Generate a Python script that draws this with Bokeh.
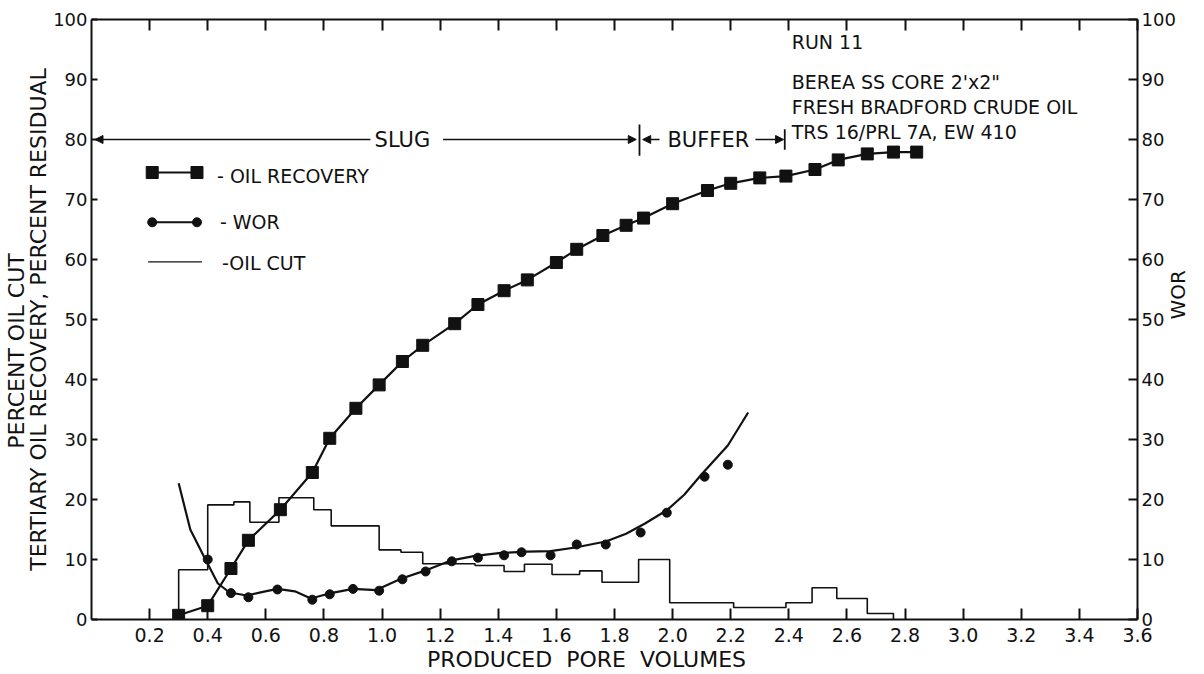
import math
from bokeh.plotting import figure
from bokeh.models import (LinearAxis, Range1d, FixedTicker, PrintfTickFormatter,
                          Label, Arrow, NormalHead)
from bokeh.embed import file_html
from bokeh.resources import INLINE

FONT = "DejaVu Sans"
INK = "#111111"
NBSP = "\u00a0"

# ---------------- data ----------------
# Tertiary oil recovery (% residual) -- squares
REC_X = [0.30, 0.40, 0.48, 0.54, 0.65, 0.76, 0.82, 0.91, 0.99, 1.07, 1.14, 1.25,
         1.33, 1.42, 1.50, 1.60, 1.67, 1.76, 1.84, 1.90, 2.00, 2.12, 2.20, 2.30,
         2.39, 2.49, 2.57, 2.67, 2.76, 2.84]
REC_Y = [0.7, 2.3, 8.5, 13.2, 18.3, 24.5, 30.2, 35.2, 39.1, 43.0, 45.7, 49.3,
         52.5, 54.8, 56.6, 59.5, 61.7, 64.0, 65.7, 66.9, 69.3, 71.5, 72.7, 73.6,
         73.9, 75.0, 76.6, 77.6, 77.9, 77.9]

# WOR -- circles
WOR_X = [0.40, 0.48, 0.54, 0.64, 0.76, 0.82, 0.90, 0.99, 1.07, 1.15, 1.24, 1.33,
         1.42, 1.48, 1.58, 1.67, 1.77, 1.89, 1.98, 2.11, 2.19]
WOR_Y = [10.0, 4.4, 3.7, 5.0, 3.3, 4.2, 5.1, 4.8, 6.7, 8.0, 9.7, 10.3,
         10.7, 11.2, 10.7, 12.5, 12.5, 14.5, 17.8, 23.8, 25.8]

# WOR smoothed curve as drawn on the chart
WOR_CURVE_X = [0.30, 0.34, 0.39, 0.435, 0.475, 0.535, 0.59, 0.64, 0.70, 0.755,
               0.815, 0.90, 0.98, 1.065, 1.145, 1.235, 1.32, 1.41, 1.50, 1.58,
               1.665, 1.77, 1.84, 1.905, 1.98, 2.04, 2.10, 2.19, 2.26]
WOR_CURVE_Y = [22.7, 15.0, 10.2, 6.0, 4.5, 4.0, 4.6, 5.1, 4.7, 3.5,
               4.3, 5.1, 4.9, 6.8, 8.1, 9.8, 10.6, 11.1, 11.3, 11.4,
               12.0, 13.0, 14.3, 16.0, 18.2, 20.8, 24.2, 29.0, 34.5]

# Oil cut (%) -- step histogram: bin edges and bin values
CUT_EDGES = [0.30, 0.40, 0.49, 0.545, 0.645, 0.765, 0.825, 0.99, 1.065, 1.14,
             1.32, 1.42, 1.49, 1.585, 1.68, 1.757, 1.883, 1.99, 2.21, 2.39,
             2.48, 2.565, 2.67, 2.76]
CUT_VALUES = [8.3, 19.1, 19.6, 16.2, 20.3, 18.3, 15.6, 11.6, 11.2, 9.3,
              9.0, 8.0, 9.2, 7.5, 8.1, 6.2, 10.0, 2.8, 2.0, 2.8,
              5.3, 3.5, 1.0]

X_TICKS = [0.2, 0.4, 0.6, 0.8, 1.0, 1.2, 1.4, 1.6, 1.8, 2.0, 2.2, 2.4, 2.6,
           2.8, 3.0, 3.2, 3.4, 3.6]
Y_TICKS = [0, 10, 20, 30, 40, 50, 60, 70, 80, 90, 100]

# ---------------- figure ----------------
p = figure(width=1204, height=674, x_range=Range1d(0, 3.6), y_range=Range1d(0, 100),
           output_backend="svg", toolbar_location=None,
           min_border_left=91, min_border_right=62, min_border_top=19,
           min_border_bottom=55)
p.grid.visible = False
p.outline_line_color = None
p.background_fill_color = "white"
p.border_fill_color = "white"


def style_axis(ax, tick_in, standoff, size="18px"):
    ax.axis_line_color = INK
    ax.axis_line_width = 2
    ax.major_tick_line_color = INK
    ax.major_tick_line_width = 2
    ax.major_tick_in = tick_in
    ax.major_tick_out = 0
    ax.minor_tick_line_color = None
    ax.major_label_standoff = standoff
    ax.major_label_text_font = FONT
    ax.major_label_text_color = INK
    ax.major_label_text_font_size = size
    ax.axis_label_text_font = FONT
    ax.axis_label_text_color = INK
    ax.axis_label_text_font_style = "normal"


def title_axis(text, size, standoff):
    ax = LinearAxis(ticker=FixedTicker(ticks=[]))
    style_axis(ax, 0, 0, "0px")
    ax.axis_line_color = None
    ax.axis_label = text
    ax.axis_label_text_font_size = size
    ax.axis_label_standoff = standoff
    return ax


xb = p.below[0]
xb.ticker = FixedTicker(ticks=X_TICKS)
xb.formatter = PrintfTickFormatter(format="%.1f")
style_axis(xb, 11, 8, "19px")
xb.axis_label = ("PRODUCED" + NBSP * 2 + "PORE" + NBSP * 2 + "VOLUMES") + NBSP * 8
xb.axis_label_text_font_size = "22px"
xb.axis_label_standoff = 2

yl = p.left[0]
yl.ticker = FixedTicker(ticks=Y_TICKS)
style_axis(yl, 6, 4)
yl.axis_label = "TERTIARY OIL RECOVERY, PERCENT RESIDUAL"
yl.axis_label_text_font_size = "22px"
yl.axis_label_standoff = -1

p.add_layout(title_axis("PERCENT OIL CUT" + NBSP * 9, "22px", -5), "left")

yr = LinearAxis(ticker=FixedTicker(ticks=Y_TICKS))
style_axis(yr, 9, 4)
p.add_layout(yr, "right")

wor_title = title_axis("WOR", "20px", -1)
wor_title.axis_label_orientation = math.pi / 2
p.add_layout(wor_title, "right")

xt = LinearAxis(ticker=FixedTicker(ticks=X_TICKS))
style_axis(xt, 11, 0, "0px")
xt.major_label_text_alpha = 0
p.add_layout(xt, "above")

# ---------------- data marks ----------------
step_x = [CUT_EDGES[0]] + CUT_EDGES
step_y = [0] + CUT_VALUES + [0]
p.step(step_x, step_y, mode="after", line_color=INK, line_width=1.6)

p.line(REC_X, REC_Y, line_color=INK, line_width=2.2)
p.scatter(REC_X, REC_Y, marker="square", size=12, fill_color=INK, line_color=INK)

p.line(WOR_CURVE_X, WOR_CURVE_Y, line_color=INK, line_width=2.2)
p.scatter(WOR_X, WOR_Y, marker="circle", size=9, fill_color=INK, line_color=INK)

# ---------------- legend (hand drawn like the original) ----------------
LEG_X0, LEG_X1 = 0.209, 0.363
p.line([LEG_X0, LEG_X1], [74.5, 74.5], line_color=INK, line_width=2)
p.scatter([LEG_X0, LEG_X1], [74.5, 74.5], marker="square", size=12, fill_color=INK, line_color=INK)
p.line([LEG_X0, LEG_X1], [66.2, 66.2], line_color=INK, line_width=2)
p.scatter([LEG_X0, LEG_X1], [66.2, 66.2], marker="circle", size=9, fill_color=INK, line_color=INK)
p.line([0.195, 0.38], [59.6, 59.6], line_color=INK, line_width=1.4)


def label(x, y, text, size="19px", align="left", angle=0.0):
    p.add_layout(Label(x=x, y=y, text=text, text_font=FONT, text_font_size=size,
                       text_color=INK, text_align=align, text_baseline="middle",
                       angle=angle))


label(0.432, 74.0, "- OIL RECOVERY")
label(0.442, 66.2, "- WOR")
label(0.449, 59.5, "-OIL CUT")

# ---------------- annotation block ----------------
label(2.41, 96.3, "RUN 11")
label(2.41, 89.6, "BEREA SS CORE 2'x2\"")
label(2.41, 85.4, "FRESH BRADFORD CRUDE OIL")
label(2.41, 81.3, "TRS 16/PRL 7A, EW 410")

# SLUG / BUFFER arrows
label(1.07, 80, "SLUG", size="21px", align="center")
label(2.123, 80, "BUFFER", size="21px", align="center")


def arrow(x0, x1, y=80):
    p.add_layout(Arrow(end=NormalHead(size=8, fill_color=INK, line_color=INK),
                       x_start=x0, y_start=y, x_end=x1, y_end=y,
                       line_color=INK, line_width=1.5))


arrow(0.96, 0.012)
arrow(1.21, 1.875)
arrow(1.955, 1.897)
arrow(2.285, 2.382)
p.segment(x0=[1.886, 2.386], y0=[77.3, 78.3], x1=[1.886, 2.386], y1=[82.5, 81.7],
          line_color=INK, line_width=1.8)

open("out.html", "w").write(file_html(p, INLINE))
